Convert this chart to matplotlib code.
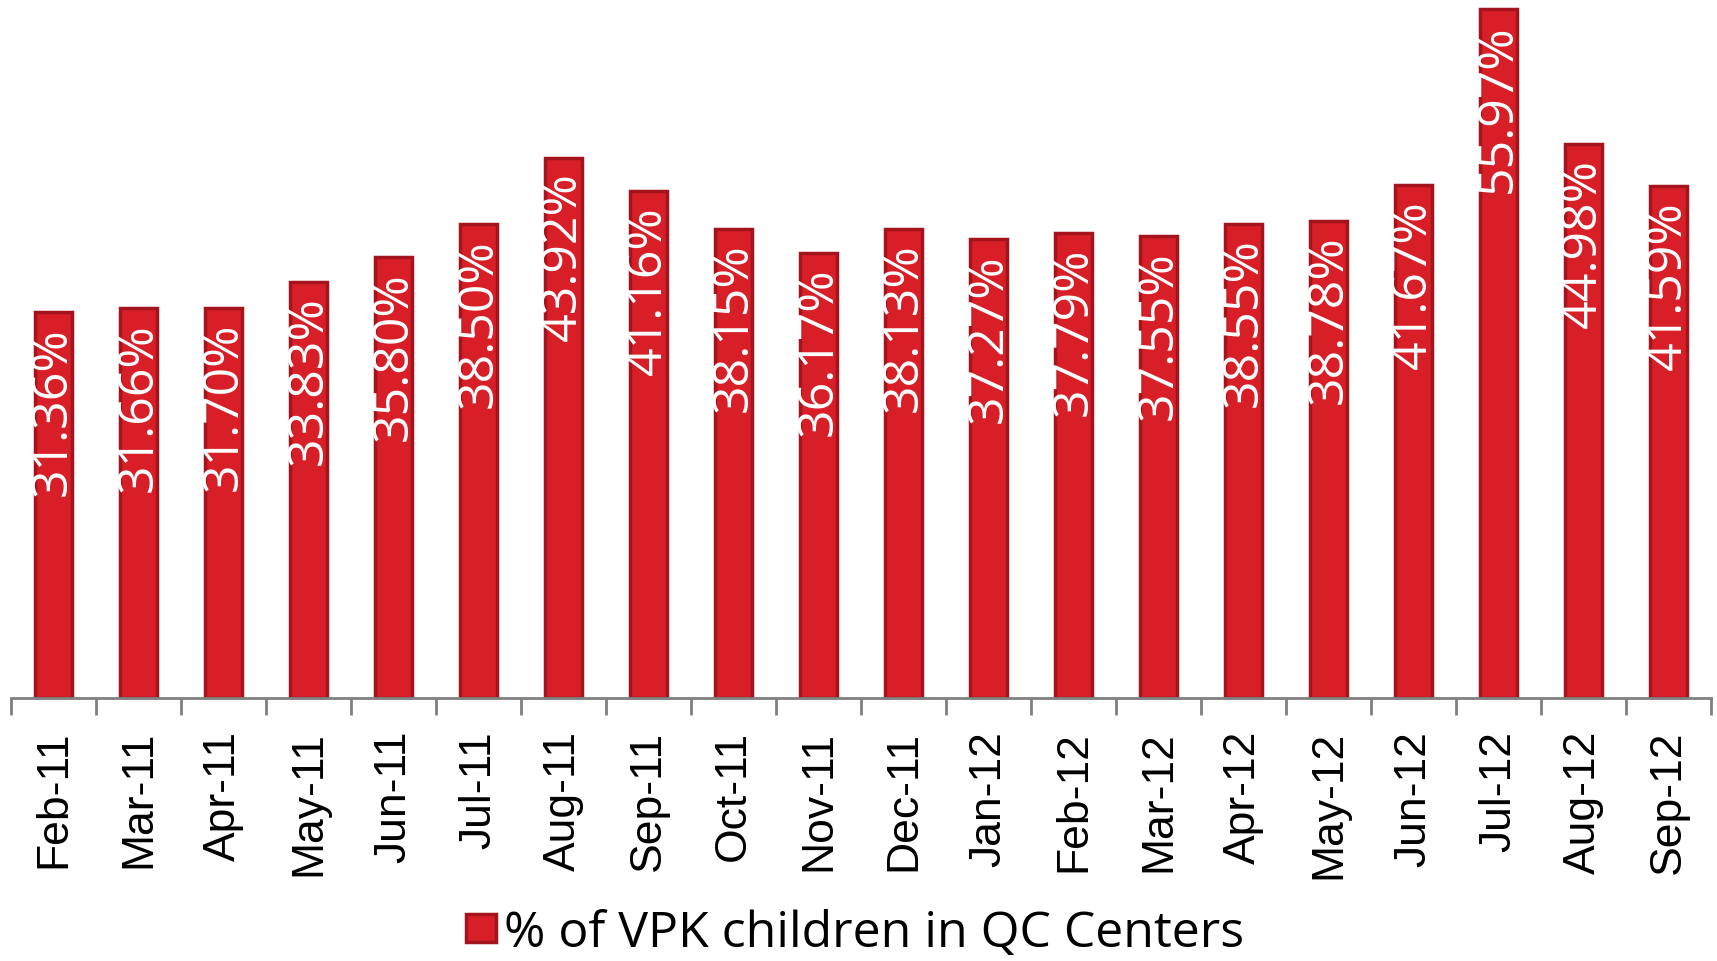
import numpy as np
import matplotlib.pyplot as plt

# ----------------------------------
# DATA
# ----------------------------------

months = [
    "Feb-11", "Mar-11", "Apr-11", "May-11", "Jun-11",
    "Jul-11", "Aug-11", "Sep-11", "Oct-11", "Nov-11",
    "Dec-11", "Jan-12", "Feb-12", "Mar-12", "Apr-12",
    "May-12", "Jun-12", "Jul-12", "Aug-12", "Sep-12",
]

pct_vpk_qc = [
    31.36, 31.66, 31.70, 33.83, 35.80,
    38.50, 43.92, 41.16, 38.15, 36.17,
    38.13, 37.27, 37.79, 37.55, 38.55,
    38.78, 41.67, 55.97, 44.98, 41.59,
]

series_name = "% of VPK children in QC Centers"

# ----------------------------------
# PLOT
# ----------------------------------

fill_red = "#d81f28"
edge_red = "#a3141d"
axis_gray = "#808080"

fig = plt.figure(figsize=(17.17, 9.62), dpi=100)
ax = fig.add_axes([11 / 1717, 263 / 962, 1700 / 1717, 699 / 962])

x = np.arange(len(months))

bars = ax.bar(
    x,
    pct_vpk_qc,
    width=0.44,
    color=fill_red,
    edgecolor=edge_red,
    linewidth=2.5,
    label=series_name,
)

for xi, val in zip(x, pct_vpk_qc):
    ax.annotate(
        f"{val:.2f}%",
        xy=(xi, val),
        xytext=(0, -10),
        textcoords="offset points",
        rotation=90,
        ha="center",
        va="top",
        color="white",
        fontsize=36,
        family="Open Sans",
    )

ax.set_xlim(-0.5, len(months) - 0.5)
ax.set_ylim(0, 56.8)

ax.set_xticks(x)
ax.set_xticklabels(months, rotation=90, fontsize=32, family="Liberation Sans")
ax.tick_params(axis="x", which="major", length=0, pad=23)

ax.set_xticks(np.arange(-0.5, len(months), 1.0), minor=True)
ax.tick_params(axis="x", which="minor", length=12, width=2, color=axis_gray)

ax.set_yticks([])

for side in ["top", "right", "left"]:
    ax.spines[side].set_visible(False)

ax.spines["bottom"].set_color(axis_gray)
ax.spines["bottom"].set_linewidth(2)

fig.legend(
    handles=[bars],
    labels=[series_name],
    loc="center",
    bbox_to_anchor=(855 / 1717, 1 - 934 / 962),
    frameon=False,
    handlelength=0.6,
    handleheight=0.5,
    handletextpad=0.15,
    borderpad=0.1,
    prop={"family": "Open Sans", "size": 36},
)

fig.savefig("out.png", dpi=100)
